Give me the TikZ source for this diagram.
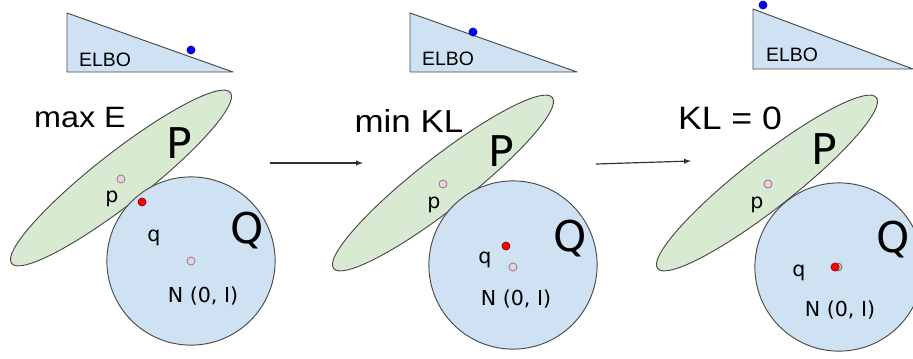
\documentclass[tikz,border=0pt]{standalone}
\usepackage{fontspec}
\setmainfont{Liberation Sans}
\newfontfamily\headfont[FakeStretch=1.1]{Liberation Sans}
\newfontfamily\lblfont{DejaVu Sans}
\usepackage{xcolor}
\usetikzlibrary{shapes.geometric}
\definecolor{linegray}{HTML}{4A4A4A}
\definecolor{qblue}{HTML}{CFE2F3}
\definecolor{pgreen}{HTML}{D9EAD3}
\definecolor{ptpink}{HTML}{EAD1DC}
\definecolor{ptred}{HTML}{FF0000}
\definecolor{ptblue}{HTML}{0000FF}

\begin{document}
\begin{tikzpicture}[x=0.85pt,y=-0.85pt,
    wedge/.style={draw=linegray,fill=qblue,line width=0.8pt,line join=round},
    pset/.style={ellipse,draw=linegray,fill=pgreen,line width=0.8pt,inner sep=0pt,
        minimum width=236pt,minimum height=44pt,rotate=38},
    qset/.style={circle,draw=linegray,fill=qblue,line width=0.8pt,inner sep=0pt,minimum size=143pt},
    dot/.style={circle,draw=#1!55!black,fill=#1,line width=0.6pt,inner sep=0pt,minimum size=6.8pt},
    elbo/.style={font=\fontsize{16.5}{18}\selectfont},
    title/.style={font=\headfont\fontsize{#1}{#1}\selectfont},
    big/.style={font=\lblfont\fontsize{36}{38}\selectfont},
    small/.style={font=\lblfont\fontsize{17.5}{19}\selectfont},
    flow/.style={-latex,draw=black!80,line width=1pt}]
                \useasboundingbox (0,0) rectangle (913,358);
                \clip (0,0) rectangle (913,358);

                \draw[wedge] (67,13) -- (67,72) -- (233,72) -- cycle;
                \node[dot=ptblue] (b1) at (191,50) {};
                \node[elbo] (elbo1) at (105,60) {ELBO};
                \node[title=25] (t1) at (80,118) {max E};
                \node[pset] (P1) at (121,178) {};
                \node[qset] (Q1) at (191,261) {};
                \node[big] (lP1) at (179,143) {P};
                \node[big] (lQ1) at (247,231) {Q};
                \node[dot=ptpink] (p1) at (121,179) {};
                \node[small] (lp1) at (112,199) {p};
                \node[dot=ptred] (q1) at (142,202) {};
                \node[small] (lq1) at (154,238) {q};
                \node[dot=ptpink] (n1) at (191,261) {};
                \node[small] (ln1) at (203,296) {N (0, I)};

                \draw[wedge] (410,13) -- (410,72) -- (577,72) -- cycle;
                \node[dot=ptblue] (b2) at (473,32) {};
                \node[elbo] (elbo2) at (448,59) {ELBO};
                \node[title=27] (t2) at (409,121) {min KL};
                \node[pset] (P2) at (443,183) {};
                \node[qset] (Q2) at (513,265) {};
                \node[big] (lP2) at (501,151) {P};
                \node[big] (lQ2) at (570,239) {Q};
                \node[dot=ptpink] (p2) at (443,184) {};
                \node[small] (lp2) at (434,205) {p};
                \node[dot=ptred] (q2) at (506,246) {};
                \node[small] (lq2) at (485,260) {q};
                \node[dot=ptpink] (n2) at (513,267) {};
                \node[small] (ln2) at (516,299) {N (0, I)};

                \draw[wedge] (753,9) -- (753,69) -- (913,69) -- cycle;
                \node[dot=ptblue] (b3) at (763,5) {};
                \node[elbo] (elbo3) at (792,55) {ELBO};
                \node[title=27.5] (t3) at (730,118) {KL = 0};
                \node[pset] (P3) at (767,183) {};
                \node[qset] (Q3) at (839,267) {};
                \node[big] (lP3) at (824,149) {P};
                \node[big] (lQ3) at (893,240) {Q};
                \node[dot=ptpink] (p3) at (768,184) {};
                \node[small] (lp3) at (757,205) {p};
                \node[dot=ptpink!70!gray] (n3) at (838,267) {};
                \node[dot=ptred] (q3) at (835,267) {};
                \node[small] (lq3) at (799,273) {q};
                \node[small] (ln3) at (840,310) {N (0, I)};

                \coordinate (s1) at (270,163);
                \coordinate (e1) at (363,163);
                \coordinate (s2) at (596,164);
                \coordinate (e2) at (691,161);
                \draw[flow] (s1) -- (e1);
                \draw[flow] (s2) -- (e2);
            \end{tikzpicture}
\end{document}
